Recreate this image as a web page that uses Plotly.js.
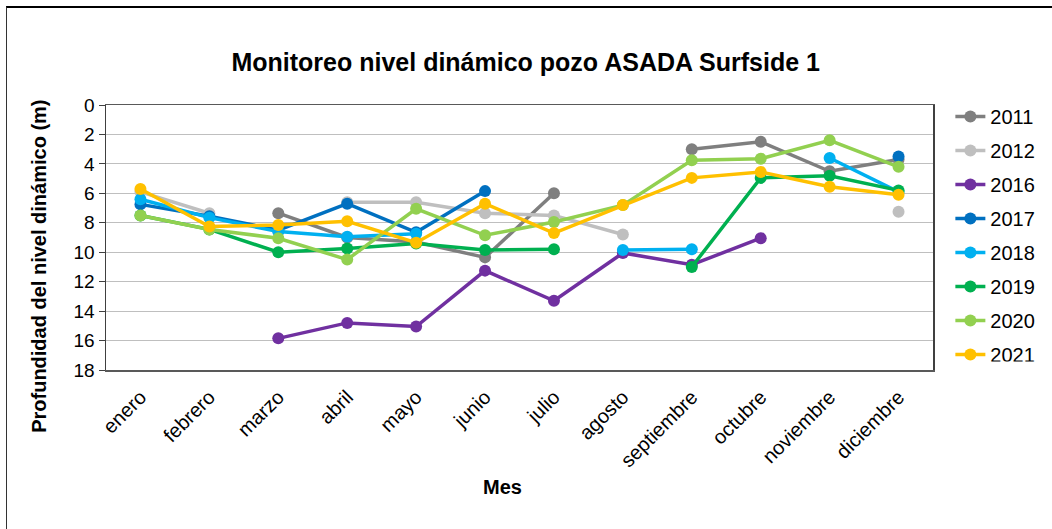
<!DOCTYPE html>
<html>
<head>
<meta charset="utf-8">
<script src="https://cdn.plot.ly/plotly-3.0.1.min.js"></script>
<style>
  html, body { margin: 0; padding: 0; background: #fff; }
  #wrap { position: relative; width: 1052px; height: 529px; }
  #chart { width: 1052px; height: 529px; }
  #frame { position: absolute; left: 6px; top: 6px; width: 1100px; height: 600px;
           border-top: 2px solid #000; border-left: 1px solid #333; pointer-events: none; }
</style>
</head>
<body>
<div id="wrap">
  <div id="chart"></div>
  <div id="frame"></div>
</div>
<script>
const months = ["enero","febrero","marzo","abril","mayo","junio","julio","agosto","septiembre","octubre","noviembre","diciembre"];

const y2011 = [null, null, 7.35, 9.0, 9.3, 10.35, 6.0, null, 3.0, 2.5, 4.5, 3.7];
const y2012 = [5.9, 7.35, null, 6.6, 6.6, 7.35, 7.5, 8.8, null, null, null, 7.25];
const y2016 = [null, null, 15.85, 14.8, 15.05, 11.25, 13.3, 10.05, 10.85, 9.05, null, null];
const y2017 = [6.75, 7.55, 8.5, 6.7, 8.65, 5.85, null, null, null, null, null, 3.5];
const y2018 = [6.4, 7.65, 8.6, 8.95, 8.75, null, null, 9.85, 9.8, null, 3.6, 5.9];
const y2019 = [7.5, 8.45, 10.0, 9.75, 9.4, 9.85, 9.8, null, 11.0, 4.95, 4.8, 5.8];
const y2020 = [7.5, 8.45, 9.05, 10.5, 7.05, 8.85, 7.95, 6.8, 3.75, 3.65, 2.4, 4.2];
const y2021 = [5.7, 8.25, 8.15, 7.9, 9.35, 6.7, 8.7, 6.8, 4.95, 4.55, 5.55, 6.1];

const seriesNames = ["2011","2012","2016","2017","2018","2019","2020","2021"];
const seriesData = [y2011, y2012, y2016, y2017, y2018, y2019, y2020, y2021];
const seriesColors = ["#7f7f7f","#bfbfbf","#7030a0","#0070c0","#00b0f0","#00b050","#92d050","#ffc000"];

const traces = seriesNames.map((n, i) => ({
  type: "scatter",
  mode: "lines+markers",
  name: n,
  legendgroup: n,
  x: months,
  y: seriesData[i],
  connectgaps: false,
  line: { color: seriesColors[i], width: 3.5 },
  marker: { color: seriesColors[i], size: 12 }
}));

const F = "Arial, 'Liberation Sans', sans-serif";

const layout = {
  width: 1052, height: 529,
  margin: { l: 106, r: 112, t: 105, b: 159 },
  paper_bgcolor: "#fff",
  plot_bgcolor: "#fff",
  showlegend: true,
  font: { family: F, color: "#000" },
  title: { text: "<b>Monitoreo nivel dinámico pozo ASADA Surfside 1</b>",
           font: { family: F, size: 25, color: "#000" },
           x: 0.5075, xref: "paper", y: 0.883, yref: "container", yanchor: "middle" },
  xaxis: {
    type: "category",
    categoryarray: months,
    tickangle: -45,
    tickfont: { family: F, size: 20, color: "#000" },
    showgrid: false,
    showline: true, linecolor: "#595959", linewidth: 1.5, mirror: true,
    ticks: "", ticklabelstandoff: 6,
    range: [-0.5, 11.5],
    zeroline: false
  },
  yaxis: {
    range: [18, 0],
    dtick: 2, tick0: 0,
    tickfont: { family: F, size: 19, color: "#000" },
    showgrid: true, gridcolor: "#bfbfbf", gridwidth: 1,
    showline: true, linecolor: "#404040", linewidth: 1.5, mirror: true,
    ticks: "outside", ticklen: 6, tickcolor: "#404040",
    zeroline: false
  },
  legend: {
    x: 1.021, xanchor: "left", y: 1.03, yanchor: "top",
    font: { family: F, size: 20, color: "#000" },
    tracegroupgap: 5,
    bgcolor: "rgba(0,0,0,0)"
  },
  annotations: [
    { text: "<b>Profundidad del nivel dinámico (m)</b>", textangle: -90,
      xref: "paper", yref: "paper", x: -0.082, y: 0.39, xanchor: "center", yanchor: "middle",
      showarrow: false, font: { family: F, size: 20, color: "#000" } },
    { text: "<b>Mes</b>",
      xref: "paper", yref: "paper", x: 0.48, y: -0.441, xanchor: "center", yanchor: "middle",
      showarrow: false, font: { family: F, size: 20, color: "#000" } }
  ]
};

Plotly.newPlot("chart", traces, layout, { displayModeBar: false, staticPlot: true });
</script>
</body>
</html>
